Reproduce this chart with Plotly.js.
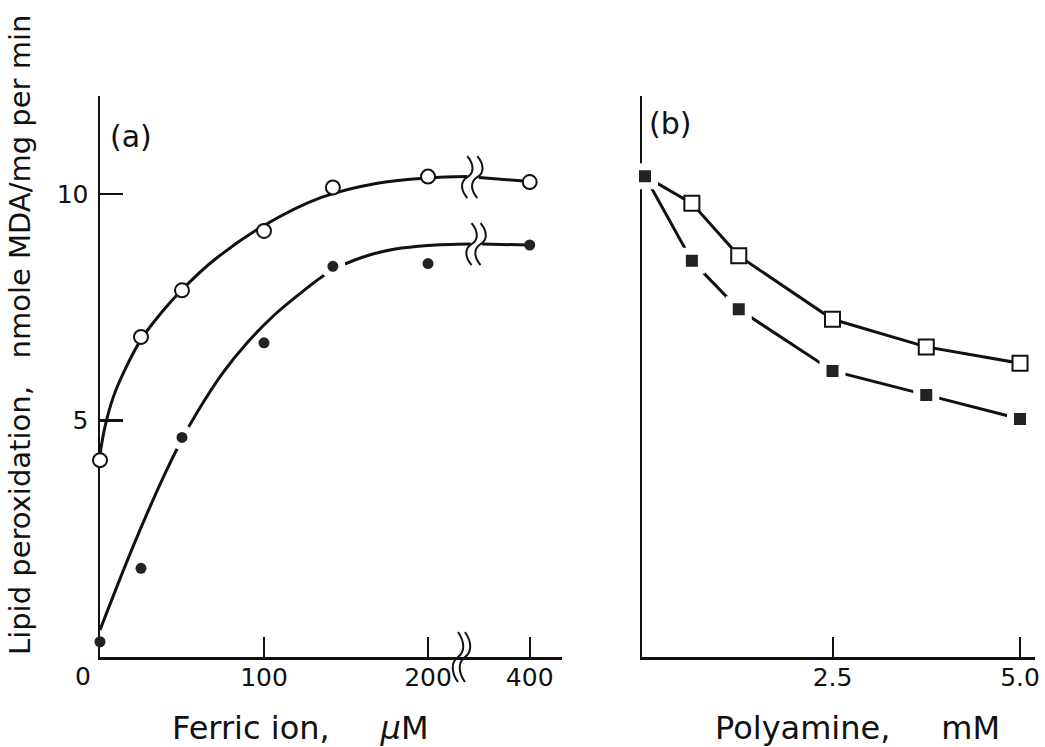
<!DOCTYPE html>
<html>
<head>
<meta charset="utf-8">
<script src="https://cdn.plot.ly/plotly-3.0.1.min.js"></script>
<style>
  html, body { margin: 0; padding: 0; background: #fff; }
  #chart { width: 1045px; height: 747px; }
</style>
</head>
<body>
<div id="chart"></div>
<script>
// (a) lipid peroxidation vs ferric ion concentration
const ironUM       = [0, 25, 50, 100, 142, 200, 400];
const openCircle   = [4.12, 6.84, 7.87, 9.18, 10.14, 10.38, 10.26];
const filledCircle = [0.11, 1.73, 4.62, 6.71, 8.40, 8.46, 8.87];

// hand-fitted curves through each series (null = axis break)
const fitOpenX   = [0, 3, 8, 15, 25, 38, 51, 70, 100, 135, 170, 200, 224, null, 369, 400];
const fitOpenY   = [4.25, 4.85, 5.5, 6.1, 6.78, 7.4, 7.92, 8.55, 9.3, 9.92, 10.24, 10.35, 10.38, null, 10.36, 10.27];
const fitFilledX = [0, 10, 20, 30, 40, 50, 60, 75, 90, 105, 120, 140, 160, 180, 200, 226, null, 371, 400];
const fitFilledY = [0.37, 1.3, 2.2, 3.05, 3.85, 4.58, 5.22, 6.05, 6.72, 7.28, 7.74, 8.28, 8.6, 8.78, 8.86, 8.89, null, 8.89, 8.87];

// (b) lipid peroxidation vs polyamine concentration
const polyamineMM  = [0, 0.625, 1.25, 2.5, 3.75, 5.0];
const openSquare   = [10.39, 9.79, 8.63, 7.23, 6.62, 6.26];
const filledSquare = [10.39, 8.52, 7.45, 6.09, 5.56, 5.03];

// tick labels
const ironTickVals   = [100, 200, 400];
const ironTickText   = ['100', '200', '400'];
const polyTickVals   = [2.5, 5.0];
const polyTickText   = ['2.5', '5.0'];
const yTickVals      = [5, 10];
const yTickText      = ['5', '10'];

// the ferric-ion axis is broken between 200 and 400 µM
const AXIS_GAP = 138;
const onBrokenAxis = v => (v === null ? null : (v > 300 ? v - AXIS_GAP : v));

const INK = '#111';
const FONT = 'DejaVu Sans';
const W = 1045, H = 747;

const traces = [
  { x: fitOpenX.map(onBrokenAxis), y: fitOpenY, xaxis: 'x', yaxis: 'y',
    mode: 'lines', line: { color: INK, width: 3, shape: 'spline', smoothing: 1 },
    connectgaps: false, hoverinfo: 'skip' },
  { x: fitFilledX.map(onBrokenAxis), y: fitFilledY, xaxis: 'x', yaxis: 'y',
    mode: 'lines', line: { color: INK, width: 3, shape: 'spline', smoothing: 1 },
    connectgaps: false, hoverinfo: 'skip' },
  { x: ironUM.map(onBrokenAxis), y: openCircle, xaxis: 'x', yaxis: 'y',
    mode: 'markers', cliponaxis: false,
    marker: { symbol: 'circle', size: 14, color: '#fff', opacity: 1,
              line: { color: INK, width: 2 } } },
  { x: ironUM.map(onBrokenAxis), y: filledCircle, xaxis: 'x', yaxis: 'y',
    mode: 'markers', cliponaxis: false,
    marker: { symbol: 'circle', color: '#222', opacity: 1,
              size: [11, 11, 18, 11, 18, 11, 11],
              line: { color: '#fff', width: [0, 0, 7, 0, 7, 0, 0] } } },
  { x: polyamineMM, y: openSquare, xaxis: 'x2', yaxis: 'y2',
    mode: 'lines+markers', cliponaxis: false,
    line: { color: INK, width: 3 },
    marker: { symbol: 'square', size: 15, color: '#fff', opacity: 1,
              line: { color: INK, width: 2 } } },
  { x: polyamineMM, y: filledSquare, xaxis: 'x2', yaxis: 'y2',
    mode: 'lines+markers', cliponaxis: false,
    line: { color: INK, width: 3 },
    marker: { symbol: 'square', size: 19, color: '#222', opacity: 1,
              line: { color: '#fff', width: 7 } } }
];

// wavy double stroke marking a break, anchored at a data position
function breakMark(xref, yref, xAt, yAt, dx, half) {
  const b = 7;
  return {
    type: 'path', xref: xref, yref: yref,
    xsizemode: 'pixel', ysizemode: 'pixel', xanchor: xAt, yanchor: yAt,
    path: `M ${dx},${half} C ${dx + b},${half * 0.6} ${dx + b},${half * 0.2} ${dx},0 ` +
          `C ${dx - b},${-half * 0.2} ${dx - b},${-half * 0.6} ${dx},${-half}`,
    line: { color: INK, width: 2 }
  };
}

const yRange = [-0.227, 12.16];
const yDomain = [(H - 657) / H, (H - 96) / H];

const axisCommon = {
  showline: true, linecolor: INK, showgrid: false, zeroline: false,
  ticks: 'inside', tickcolor: INK, layer: 'below traces',
  tickfont: { family: FONT, size: 25, color: INK }
};

const layout = {
  width: W, height: H,
  margin: { l: 0, r: 0, t: 0, b: 0 },
  paper_bgcolor: '#fff', plot_bgcolor: '#fff',
  showlegend: false,
  xaxis: Object.assign({}, axisCommon, {
    domain: [100 / W, 562 / W], range: [0, 281.7], anchor: 'y',
    linewidth: 3, ticklen: 20, tickwidth: 2, ticklabelstandoff: -4,
    tickvals: ironTickVals.map(onBrokenAxis), ticktext: ironTickText
  }),
  yaxis: Object.assign({}, axisCommon, {
    domain: yDomain, range: yRange, anchor: 'x',
    linewidth: 2.5, ticklen: 23, tickwidth: 2.5, ticklabelstandoff: 4,
    tickvals: yTickVals, ticktext: yTickText
  }),
  xaxis2: Object.assign({}, axisCommon, {
    domain: [642 / W, 1035 / W], range: [-0.04, 5.2], anchor: 'y2',
    linewidth: 3, ticklen: 20, tickwidth: 2, ticklabelstandoff: -4,
    tickvals: polyTickVals, ticktext: polyTickText
  }),
  yaxis2: Object.assign({}, axisCommon, {
    domain: yDomain, range: yRange, anchor: 'x2',
    linewidth: 2.5, ticks: '', showticklabels: false
  }),
  shapes: [
    breakMark('x', 'y', 227, 10.37, -5, 21),
    breakMark('x', 'y', 227, 10.37, 5, 21),
    breakMark('x', 'y', 229.3, 8.89, -4.5, 21),
    breakMark('x', 'y', 229.3, 8.89, 4.5, 21),
    breakMark('x', 'paper', 220.4, yDomain[0], -3.5, 25),
    breakMark('x', 'paper', 220.4, yDomain[0], 3.5, 25)
  ],
  annotations: [
    { text: '0', xref: 'paper', yref: 'paper', x: 83 / W, y: (H - 676) / H,
      showarrow: false, xanchor: 'center', yanchor: 'middle',
      font: { family: FONT, size: 25, color: INK } },
    { text: 'Ferric ion,\u00A0\u00A0\u00A0\u00A0\u00A0<i>\u03BC</i>M', xref: 'paper', yref: 'paper',
      x: 300 / W, y: (H - 728) / H, showarrow: false, xanchor: 'center', yanchor: 'middle',
      font: { family: FONT, size: 32, color: INK } },
    { text: 'Polyamine,\u00A0\u00A0\u00A0\u00A0\u00A0mM', xref: 'paper', yref: 'paper',
      x: 857 / W, y: (H - 728) / H, showarrow: false, xanchor: 'center', yanchor: 'middle',
      font: { family: FONT, size: 32, color: INK } },
    { text: 'Lipid peroxidation,\u00A0\u00A0\u00A0nmole MDA/mg per min', xref: 'paper', yref: 'paper',
      x: 20 / W, y: (H - 335) / H, showarrow: false, textangle: -90,
      xanchor: 'center', yanchor: 'middle',
      font: { family: FONT, size: 29, color: INK } },
    { text: '(a)', xref: 'paper', yref: 'paper', x: 131 / W, y: (H - 136) / H,
      showarrow: false, xanchor: 'center', yanchor: 'middle',
      font: { family: FONT, size: 30, color: INK } },
    { text: '(b)', xref: 'paper', yref: 'paper', x: 670 / W, y: (H - 123) / H,
      showarrow: false, xanchor: 'center', yanchor: 'middle',
      font: { family: FONT, size: 30, color: INK } }
  ]
};

Plotly.newPlot('chart', traces, layout, { staticPlot: true, displayModeBar: false });
</script>
</body>
</html>
